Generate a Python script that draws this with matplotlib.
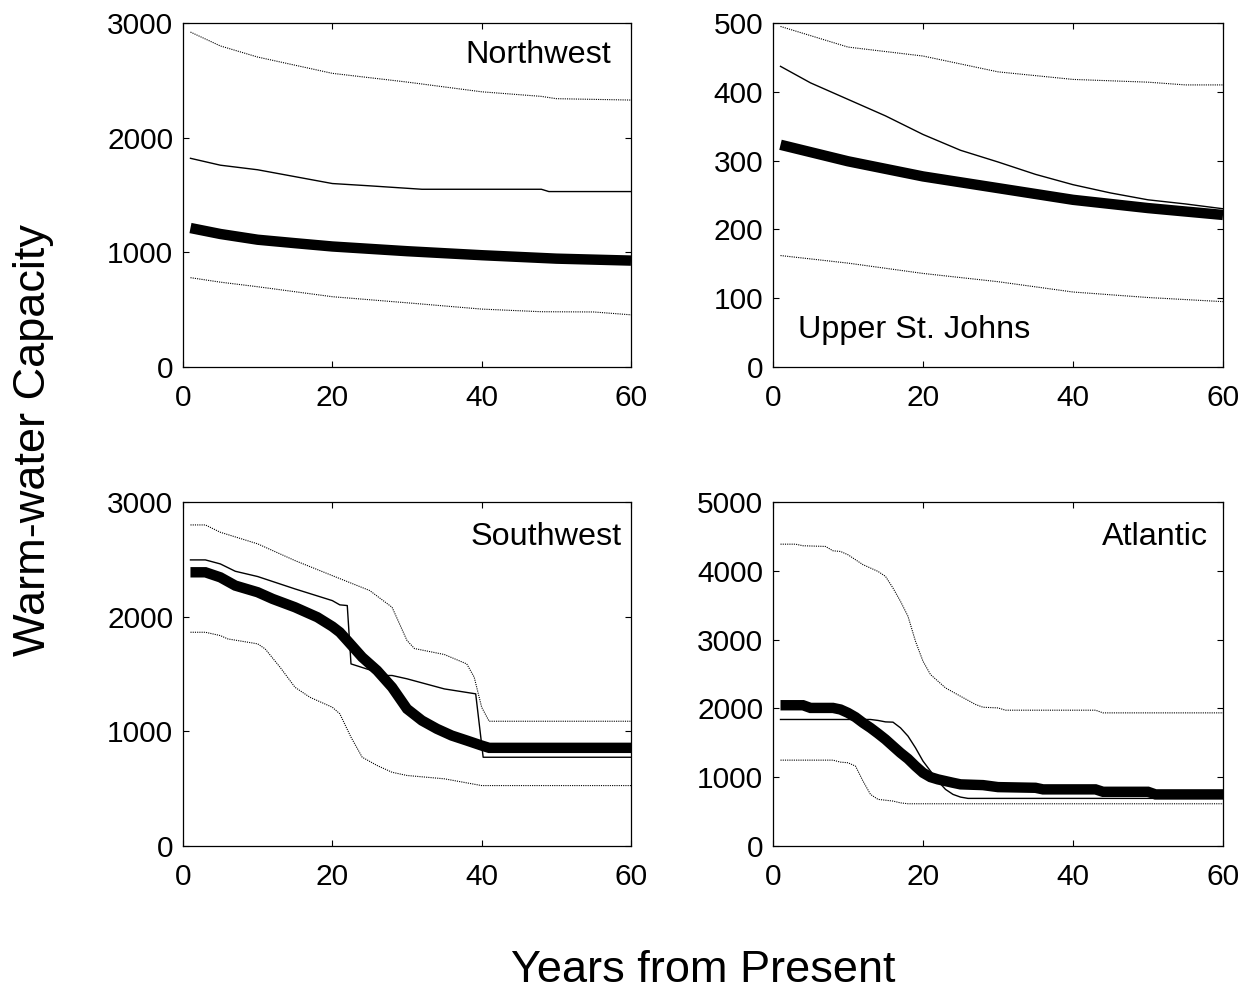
import matplotlib
matplotlib.use("Agg")
import matplotlib.pyplot as plt

plt.rcParams['font.family'] = ['Liberation Sans', 'DejaVu Sans']

# ---------------- data ----------------
# Northwest
nw_up_x = [1, 5, 10, 20, 30, 40, 48, 50, 60]
nw_up_y = [2921, 2800, 2703, 2561, 2485, 2400, 2360, 2340, 2328]
nw_mid_x = [1, 5, 10, 15, 20, 25, 32, 48, 49, 60]
nw_mid_y = [1820, 1760, 1720, 1660, 1600, 1580, 1550, 1550, 1530, 1530]
nw_main_x = [1, 5, 10, 15, 20, 30, 40, 50, 60]
nw_main_y = [1212, 1160, 1110, 1080, 1051, 1010, 975, 945, 928]
nw_low_x = [1, 5, 10, 20, 30, 40, 48, 55, 60]
nw_low_y = [779, 740, 700, 613, 560, 505, 482, 480, 455]

# Upper St. Johns
us_up_x = [1, 10, 20, 30, 40, 50, 55, 60]
us_up_y = [495, 465, 452, 429, 418, 414, 410, 410]
us_mid_x = [1, 5, 10, 15, 20, 25, 30, 35, 40, 45, 50, 55, 60]
us_mid_y = [437, 413, 389, 365, 338, 315, 298, 280, 265, 253, 243, 237, 230]
us_main_x = [1, 10, 20, 30, 40, 50, 60]
us_main_y = [323, 299, 277, 260, 243, 231, 221]
us_low_x = [1, 10, 20, 30, 40, 50, 60]
us_low_y = [162, 151, 136, 124, 109, 101, 95]

# Southwest
sw_up_x = [1, 3, 5, 10, 15, 20, 25, 28, 30, 31, 35, 38, 39, 40, 41, 60]
sw_up_y = [2800, 2800, 2736, 2635, 2489, 2358, 2228, 2082, 1792, 1722, 1670, 1588, 1472, 1210, 1088, 1088]
sw_mid_x = [1, 3, 5, 7, 10, 15, 20, 21, 22, 22.5, 25, 27, 28, 30, 35, 39.2, 40.2, 60]
sw_mid_y = [2495, 2495, 2460, 2396, 2350, 2242, 2140, 2103, 2097, 1588, 1536, 1487, 1487, 1458, 1370, 1327, 774, 774]
sw_main_x = [1, 3, 5, 7, 10, 12, 15, 18, 20, 21, 22, 24, 26, 28, 30, 32, 34, 36, 38, 40, 41, 60]
sw_main_y = [2387, 2387, 2343, 2271, 2213, 2155, 2082, 1995, 1914, 1864, 1792, 1646, 1530, 1384,
             1196, 1094, 1022, 963, 920, 876, 856, 856]
sw_low_x = [1, 3, 5, 6, 10, 11, 13, 15, 17, 20, 21, 22.5, 24, 26, 28, 30, 35, 40, 60]
sw_low_y = [1864, 1864, 1835, 1806, 1763, 1719, 1559, 1384, 1297, 1210, 1153, 949, 774, 702, 643,
            615, 586, 527, 527]

# Atlantic
at_up_x = [1, 3, 4, 7, 8, 9, 10, 12, 14, 15, 16, 17, 18, 19, 20, 21, 22, 23, 25, 27, 28, 30, 31,
           43, 44, 60]
at_up_y = [4387, 4387, 4364, 4354, 4291, 4281, 4233, 4089, 3991, 3919, 3749, 3556, 3338, 2975, 2685,
           2492, 2395, 2298, 2177, 2057, 2017, 2007, 1974, 1974, 1935, 1935]
at_mid_x = [1, 13, 14, 15, 16, 17, 18, 19, 20, 21, 22, 23, 24, 25, 26, 60]
at_mid_y = [1839, 1839, 1825, 1804, 1800, 1717, 1597, 1427, 1234, 1089, 943, 823, 750, 711, 692, 692]
at_main_x = [1, 4, 5, 8, 9, 10, 11, 12, 13, 14, 15, 16, 17, 18, 19, 20, 21, 22, 24, 25, 28, 30, 35,
             36, 43, 44, 50, 51, 60]
at_main_y = [2046, 2046, 2007, 2007, 1984, 1935, 1872, 1790, 1717, 1635, 1549, 1451, 1354, 1267, 1161,
             1064, 1001, 968, 919, 896, 885, 856, 846, 823, 823, 788, 788, 750, 750]
at_low_x = [1, 8, 9, 10, 11, 12, 13, 14, 16, 17, 18, 60]
at_low_y = [1248, 1248, 1219, 1210, 1161, 943, 750, 678, 653, 627, 614, 614]

panels = [
    dict(name="Northwest", pos=[183, 23, 448, 344], ylim=3000, yticks=[0, 1000, 2000, 3000],
         up=(nw_up_x, nw_up_y), mid=(nw_mid_x, nw_mid_y), main=(nw_main_x, nw_main_y),
         low=(nw_low_x, nw_low_y), label_xy=(611, 55), ha="right"),
    dict(name="Upper St. Johns", pos=[773, 23, 450, 344], ylim=500,
         yticks=[0, 100, 200, 300, 400, 500],
         up=(us_up_x, us_up_y), mid=(us_mid_x, us_mid_y), main=(us_main_x, us_main_y),
         low=(us_low_x, us_low_y), label_xy=(798, 330), ha="left"),
    dict(name="Southwest", pos=[183, 502, 448, 344], ylim=3000, yticks=[0, 1000, 2000, 3000],
         up=(sw_up_x, sw_up_y), mid=(sw_mid_x, sw_mid_y), main=(sw_main_x, sw_main_y),
         low=(sw_low_x, sw_low_y), label_xy=(622, 537), ha="right"),
    dict(name="Atlantic", pos=[773, 502, 450, 344], ylim=5000,
         yticks=[0, 1000, 2000, 3000, 4000, 5000],
         up=(at_up_x, at_up_y), mid=(at_mid_x, at_mid_y), main=(at_main_x, at_main_y),
         low=(at_low_x, at_low_y), label_xy=(1208, 537), ha="right"),
]

W, H = 1254, 993
fig = plt.figure(figsize=(W / 100, H / 100), dpi=100)

for p in panels:
    x0, y0, w, h = p["pos"]
    ax = fig.add_axes([x0 / W, (H - y0 - h) / H, w / W, h / H])
    dot = dict(color="black", lw=0.8, ls=(0, (1, 1)))
    ax.plot(*p["up"], **dot)
    ax.plot(*p["low"], **dot)
    ax.plot(*p["mid"], color="black", lw=1.0)
    ax.plot(*p["main"], color="black", lw=7.5, solid_capstyle="butt", solid_joinstyle="miter")
    ax.set_xlim(0, 60)
    ax.set_ylim(0, p["ylim"])
    ax.set_xticks([0, 20, 40, 60])
    ax.set_yticks(p["yticks"])
    ax.tick_params(direction="in", length=4, width=0.8, top=True, right=True,
                   labelsize=21.5)
    ax.tick_params(axis="x", pad=12)
    ax.tick_params(axis="y", pad=7)
    for s in ax.spines.values():
        s.set_linewidth(0.9)
    lx, ly = p["label_xy"]
    fig.text(lx / W, 1 - ly / H, p["name"], ha=p["ha"], va="center", fontsize=23.3)

fig.text(34 / W, 1 - 440 / H, "Warm-water Capacity", rotation=90, ha="center", va="center",
         fontsize=32.5)
fig.text(703 / W, 1 - 970 / H, "Years from Present", ha="center", va="center", fontsize=32.5)

fig.savefig("out.png", dpi=100)
